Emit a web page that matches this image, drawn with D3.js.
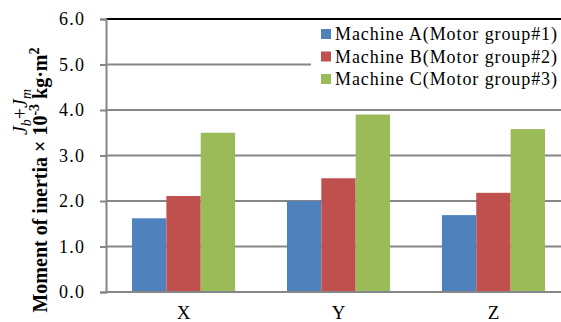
<!DOCTYPE html>
<html>
<head>
<meta charset="utf-8">
<script src="https://cdn.jsdelivr.net/npm/d3@7"></script>
</head>
<body style="margin:0;background:#fff">
<svg id="chart" width="561" height="322" font-family="Liberation Serif"></svg>
<script>
var categories = ["X", "Y", "Z"];
var seriesNames = ["Machine A(Motor group#1)", "Machine B(Motor group#2)", "Machine C(Motor group#3)"];
var machineA = [1.62, 2.0, 1.69];
var machineB = [2.11, 2.5, 2.18];
var machineC = [3.5, 3.9, 3.58];
var yTicks = [0, 1, 2, 3, 4, 5, 6];

var colors = ["#4F81BD", "#C0504D", "#9BBB59"];
var series = [machineA, machineB, machineC];
var SERIF = "Liberation Serif";

var margin = { left: 106, top: 19, right: 571, bottom: 292 };

var svg = d3.select("#chart");

var x = d3.scaleBand()
	.domain(categories)
	.range([margin.left, margin.right])
	.paddingInner(0.335)
	.paddingOuter(0.168);

var xInner = d3.scaleBand()
	.domain(d3.range(seriesNames.length))
	.range([0, x.bandwidth()]);

var y = d3.scaleLinear()
	.domain([0, 6])
	.range([margin.bottom, margin.top]);

// gridlines
svg.append("g")
	.selectAll("line")
	.data(yTicks.filter(function(d) { return d > 0 && d < 6; }))
	.enter().append("line")
		.attr("x1", margin.left)
		.attr("x2", 561)
		.attr("y1", function(d) { return y(d); })
		.attr("y2", function(d) { return y(d); })
		.attr("stroke", "#868686")
		.attr("stroke-width", 2);

// top border
svg.append("line")
	.attr("x1", margin.left).attr("x2", 561)
	.attr("y1", y(6)).attr("y2", y(6))
	.attr("stroke", "#000").attr("stroke-width", 2);

// bars
var groups = svg.append("g")
	.selectAll("g")
	.data(categories)
	.enter().append("g")
		.attr("transform", function(d) { return "translate(" + x(d) + ",0)"; });

groups.selectAll("rect")
	.data(function(d, i) { return series.map(function(s, j) { return { v: s[i], j: j }; }); })
	.enter().append("rect")
		.attr("x", function(d) { return xInner(d.j); })
		.attr("width", xInner.bandwidth())
		.attr("y", function(d) { return y(d.v); })
		.attr("height", function(d) { return y(0) - y(d.v); })
		.attr("fill", function(d) { return colors[d.j]; });

// y axis
var yAxis = d3.axisLeft(y)
	.tickValues(yTicks)
	.tickFormat(d3.format(".1f"))
	.tickSize(6)
	.tickPadding(16);

var yG = svg.append("g")
	.attr("transform", "translate(" + margin.left + ",0)")
	.call(yAxis)
	.attr("font-family", SERIF);
yG.select(".domain").attr("stroke", "#868686").attr("stroke-width", 2);
yG.selectAll(".tick line").attr("stroke", "#868686").attr("stroke-width", 2);
yG.selectAll(".tick text")
	.attr("font-family", SERIF)
	.attr("font-size", 18)
	.attr("textLength", 25)
	.attr("fill", "#000");

// x axis
var xAxis = d3.axisBottom(x).tickSize(0).tickPadding(14);
var xG = svg.append("g")
	.attr("transform", "translate(0," + margin.bottom + ")")
	.call(xAxis)
	.attr("font-family", SERIF);
xG.select(".domain").remove();
xG.selectAll(".tick text")
	.attr("font-family", SERIF)
	.attr("font-size", 19)
	.attr("fill", "#000");

svg.append("line")
	.attr("x1", margin.left).attr("x2", 561)
	.attr("y1", y(0)).attr("y2", y(0))
	.attr("stroke", "#868686").attr("stroke-width", 2);

// legend
var legend = svg.append("g");
legend.append("rect")
	.attr("x", 311).attr("y", 21)
	.attr("width", 250).attr("height", 80)
	.attr("fill", "#fff");

var legRows = legend.selectAll("g.row")
	.data(seriesNames)
	.enter().append("g")
		.attr("class", "row")
		.attr("transform", function(d, i) { return "translate(321," + (29 + i * 22.5) + ")"; });

legRows.append("rect")
	.attr("width", 10).attr("height", 10)
	.attr("fill", function(d, i) { return colors[i]; });

legRows.append("text")
	.attr("x", 14)
	.attr("y", 11)
	.attr("textLength", 222)
	.attr("lengthAdjust", "spacing")
	.attr("font-family", SERIF)
	.attr("font-size", 18)
	.attr("fill", "#000")
	.text(function(d) { return d; });

// y title
var title = svg.append("text")
	.attr("transform", "translate(47,180) rotate(-90)")
	.attr("text-anchor", "middle")
	.attr("font-family", SERIF)
	.attr("font-size", 20)
	.attr("font-weight", "bold");
title.append("tspan").text("Moment of inertia \u00d7 10");
title.append("tspan").attr("dy", -8).attr("font-size", 14).text("-3");
title.append("tspan").attr("dy", 8).text("\u00a0kg\u00b7m");
title.append("tspan").attr("dy", -8).attr("font-size", 14).text("2");

var jt = svg.append("text")
	.attr("transform", "translate(27,112) rotate(-90)")
	.attr("text-anchor", "middle")
	.attr("font-family", SERIF)
	.attr("font-size", 20)
	.attr("font-style", "italic");
jt.append("tspan").text("J");
jt.append("tspan").attr("dy", 4).attr("font-size", 14).text("b");
jt.append("tspan").attr("dy", -4).attr("font-style", "normal").text("+");
jt.append("tspan").text("J");
jt.append("tspan").attr("dy", 4).attr("font-size", 14).text("m");
</script>
</body>
</html>
